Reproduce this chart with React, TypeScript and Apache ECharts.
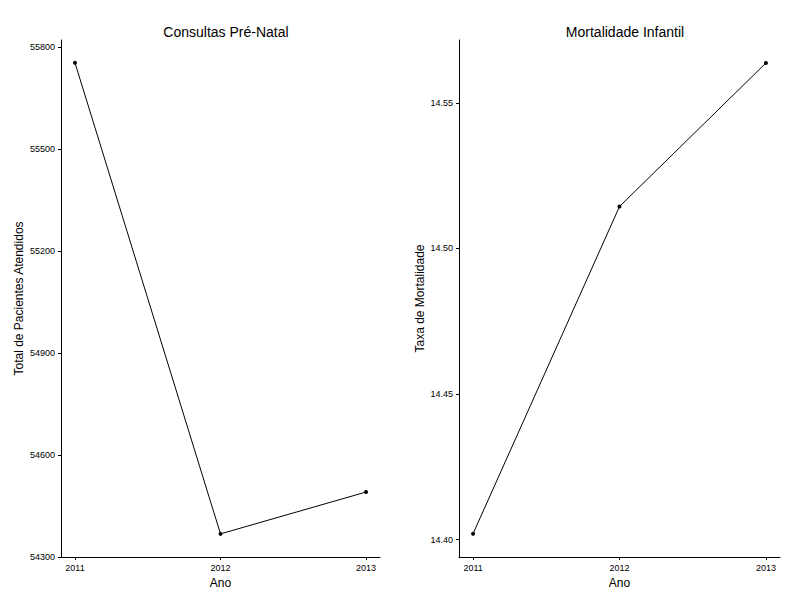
import { useEffect, useRef } from 'react'
import * as echarts from 'echarts'

// ─── data ───
const years = [2011, 2012, 2013]
const consultas = [55753, 54368, 54491]
const mortalidade = [14.402, 14.5144, 14.5637]
const leftTicks = [54300, 54600, 54900, 55200, 55500, 55800]
const rightTicks = [14.4, 14.45, 14.5, 14.55]

const FONT = 'Liberation Sans'

const xAxisFor = (gridIndex: number) => ({
  type: 'value' as const,
  gridIndex,
  min: 2010.904,
  max: 2013.096,
  name: 'Ano',
  nameLocation: 'middle' as const,
  nameGap: 19,
  nameTextStyle: { fontFamily: FONT, fontSize: 12, color: '#000' },
  axisLine: { lineStyle: { color: '#000' } },
  axisTick: { show: true, length: 3, lineStyle: { color: '#000' }, customValues: years },
  axisLabel: { fontFamily: FONT, fontSize: 9, color: '#000', margin: 6, customValues: years, formatter: (v: number) => String(v) },
  splitLine: { show: false },
})

const yAxisFor = (gridIndex: number, name: string, min: number, max: number, ticks: number[], fmt: (v: number) => string) => ({
  type: 'value' as const,
  gridIndex,
  min,
  max,
  name,
  nameLocation: 'middle' as const,
  nameGap: gridIndex === 0 ? 36 : 33,
  nameTextStyle: { fontFamily: FONT, fontSize: 12, color: '#000' },
  axisLine: { show: true, lineStyle: { color: '#000' } },
  axisTick: { show: true, length: 3, lineStyle: { color: '#000' }, customValues: ticks },
  axisLabel: { fontFamily: FONT, fontSize: 9, color: '#000', margin: 6, customValues: ticks, formatter: fmt },
  splitLine: { show: false },
})

export default function App() {
  const ref = useRef<HTMLDivElement>(null)

  useEffect(() => {
    if (!ref.current) return
    const chart = echarts.init(ref.current, undefined, { renderer: 'svg' })
    chart.setOption({
      animation: false,
      backgroundColor: '#fff',
      title: [
        { text: 'Consultas Pré-Natal', left: 221, top: 20, textAlign: 'center', textStyle: { fontFamily: FONT, fontSize: 14, fontWeight: 'normal', color: '#000' } },
        { text: 'Mortalidade Infantil', left: 620, top: 20, textAlign: 'center', textStyle: { fontFamily: FONT, fontSize: 14, fontWeight: 'normal', color: '#000' } },
      ],
      grid: [
        { left: 61, right: 420, top: 40, bottom: 43 },
        { left: 459, right: 20, top: 40, bottom: 43 },
      ],
      xAxis: [xAxisFor(0), xAxisFor(1)],
      yAxis: [
        yAxisFor(0, 'Total de Pacientes Atendidos', 54300, 55820, leftTicks, (v: number) => String(v)),
        yAxisFor(1, 'Taxa de Mortalidade', 14.394, 14.5716, rightTicks, (v: number) => v.toFixed(2)),
      ],
      series: [
        {
          type: 'line', xAxisIndex: 0, yAxisIndex: 0,
          data: years.map((y, i) => [y, consultas[i]]),
          symbol: 'circle', symbolSize: 4,
          lineStyle: { color: '#000', width: 1 }, itemStyle: { color: '#000' },
        },
        {
          type: 'line', xAxisIndex: 1, yAxisIndex: 1,
          data: years.map((y, i) => [y, mortalidade[i]]),
          symbol: 'circle', symbolSize: 4,
          lineStyle: { color: '#000', width: 1 }, itemStyle: { color: '#000' },
        },
      ],
    })
    return () => chart.dispose()
  }, [])

  return <div ref={ref} style={{ position: 'absolute', left: 0, top: 0, width: 800, height: 600 }} />
}
